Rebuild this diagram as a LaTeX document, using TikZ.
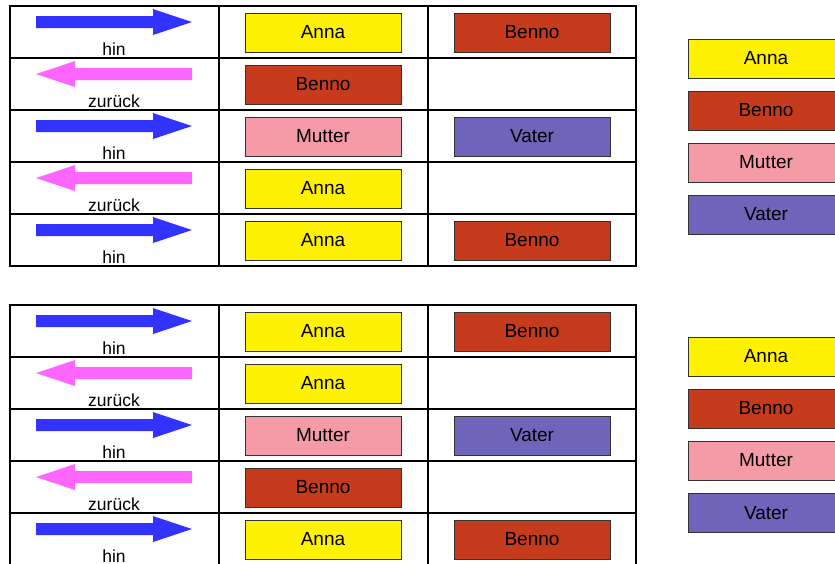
\documentclass[tikz,border=0pt]{standalone}
\usepackage{fontspec}
\setmainfont{Liberation Sans}
\usepackage{xcolor}
\definecolor{annayellow}{HTML}{FFF200}
\definecolor{bennored}{HTML}{C63B1C}
\definecolor{mutterpink}{HTML}{F59BA8}
\definecolor{vaterviolet}{HTML}{6E64B9}
\definecolor{hinblue}{HTML}{3333FF}
\definecolor{zurueckpink}{HTML}{FF66FF}
\def\rowh{52}
\tikzset{
  person/.style={draw=black!80, line width=0.8pt, minimum width=156pt, minimum height=39pt,
    inner sep=0pt, font=\fontsize{19}{19}\selectfont},
  anna/.style={person, fill=annayellow},
  benno/.style={person, fill=bennored},
  mutter/.style={person, fill=mutterpink},
  vater/.style={person, fill=vaterviolet},
  dirlabel/.style={anchor=base, inner sep=0pt, font=\fontsize{17.5}{17.5}\selectfont},
  frameline/.style={line width=2.5pt, line cap=rect}
}
\newcommand{\hinrow}[2]{
  \fill[hinblue] (36,#1+10) -- (153,#1+10) -- (153,#1+3) -- (192,#1+16)
    -- (153,#1+29) -- (153,#1+22) -- (36,#1+22) -- cycle;
  \node[dirlabel] (#2) at (114,#1+49) {hin};
}
\newcommand{\zurueckrow}[2]{
  \fill[zurueckpink] (192,#1+10) -- (75,#1+10) -- (75,#1+3) -- (36,#1+16)
    -- (75,#1+29) -- (75,#1+22) -- (192,#1+22) -- cycle;
  \node[dirlabel] (#2) at (114,#1+49) {zurück};
}
\newcommand{\drawframe}[1]{
  \draw[frameline] (10,#1) rectangle (636,#1+5*\rowh);
  \foreach \r in {1, ..., 4} {
    \draw[frameline] (10,#1+\r*\rowh) -- (636,#1+\r*\rowh);
  }
  \foreach \c in {219, 428} {
    \draw[frameline] (\c,#1) -- (\c,#1+5*\rowh);
  }
}

\begin{document}
\begin{tikzpicture}[x=1pt, y=-1pt]
  \useasboundingbox (0,0) rectangle (835,563);

  % upper table
  \drawframe{6}
  \hinrow{6}{dirA1}
  \zurueckrow{58}{dirA2}
  \hinrow{110}{dirA3}
  \zurueckrow{162}{dirA4}
  \hinrow{214}{dirA5}
  \node[anna] (annaA1) at (323,32.5) {Anna};
  \node[benno] (bennoA1) at (532,32.5) {Benno};
  \node[benno] (bennoA2) at (323,84.5) {Benno};
  \node[mutter] (mutterA3) at (323,136.5) {Mutter};
  \node[vater] (vaterA3) at (532,136.5) {Vater};
  \node[anna] (annaA4) at (323,188.5) {Anna};
  \node[anna] (annaA5) at (323,240.5) {Anna};
  \node[benno] (bennoA5) at (532,240.5) {Benno};

  \node[anna] (legAanna) at (766,58.5) {Anna};
  \node[benno] (legAbenno) at (766,110.5) {Benno};
  \node[mutter] (legAmutter) at (766,162.5) {Mutter};
  \node[vater] (legAvater) at (766,214.5) {Vater};

  % lower table
  \drawframe{305}
  \hinrow{305}{dirB1}
  \zurueckrow{357}{dirB2}
  \hinrow{409}{dirB3}
  \zurueckrow{461}{dirB4}
  \hinrow{513}{dirB5}
  \node[anna] (annaB1) at (323,331.5) {Anna};
  \node[benno] (bennoB1) at (532,331.5) {Benno};
  \node[anna] (annaB2) at (323,383.5) {Anna};
  \node[mutter] (mutterB3) at (323,435.5) {Mutter};
  \node[vater] (vaterB3) at (532,435.5) {Vater};
  \node[benno] (bennoB4) at (323,487.5) {Benno};
  \node[anna] (annaB5) at (323,539.5) {Anna};
  \node[benno] (bennoB5) at (532,539.5) {Benno};

  \node[anna] (legBanna) at (766,356.5) {Anna};
  \node[benno] (legBbenno) at (766,408.5) {Benno};
  \node[mutter] (legBmutter) at (766,460.5) {Mutter};
  \node[vater] (legBvater) at (766,513) {Vater};
\end{tikzpicture}
\end{document}
